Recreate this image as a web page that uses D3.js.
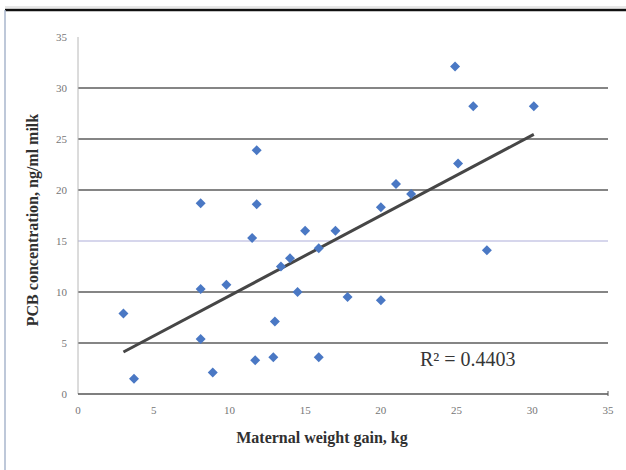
<!DOCTYPE html>
<html lang="en">
<head>
  <meta charset="UTF-8">
  <title>PCB concentration vs maternal weight gain</title>
  <script src="https://d3js.org/d3.v7.min.js"></script>
  <style>
    body { margin: 0; padding: 0; background: #fff; }
    svg { display: block; }
    .tick-label { font-family: 'Liberation Serif', serif; font-size: 11px; fill: #767676; }
    .axis-title { font-family: 'Liberation Serif', serif; font-weight: bold; fill: #303030; }
  </style>
</head>
<body>
  <div id="chart"></div>
  <script>
    // weight gain (kg) and PCB concentration (ng/ml milk)
    const weightGain = [3, 3.7, 8.1, 8.1, 8.1, 8.9, 9.8, 11.5, 11.8, 11.8, 11.7, 12.9, 13, 13.4, 14,
      14.5, 15, 15.9, 15.9, 17, 17.8, 20, 20, 21, 22, 24.9, 25.1, 26.1, 27, 30.1];
    const pcb = [7.9, 1.5, 18.7, 10.3, 5.4, 2.1, 10.7, 15.3, 23.9, 18.6, 3.3, 3.6, 7.1, 12.5, 13.3,
      10, 16, 14.3, 3.6, 16, 9.5, 18.3, 9.2, 20.6, 19.6, 32.1, 22.6, 28.2, 14.1, 28.2];
    const xTicks = [0, 5, 10, 15, 20, 25, 30, 35];
    const yTicks = [0, 5, 10, 15, 20, 25, 30, 35];
    const rSquaredLabel = "R\u00b2 = 0.4403";

    const W = 626, H = 470;
    const svg = d3.select("#chart").append("svg")
      .attr("width", W).attr("height", H);

    // frame of the scanned figure
    svg.append("line").attr("x1", 5).attr("x2", W).attr("y1", 7).attr("y2", 7)
      .attr("stroke", "#d0d0d0").attr("stroke-width", 1);
    svg.append("line").attr("x1", 5).attr("x2", W).attr("y1", 10).attr("y2", 10)
      .attr("stroke", "#111").attr("stroke-width", 2.5);
    svg.append("line").attr("x1", 5).attr("x2", 5).attr("y1", 10).attr("y2", H)
      .attr("stroke", "#a9b6cc").attr("stroke-width", 1.5);

    const x = d3.scaleLinear().domain([0, 35]).range([78, 608]);
    const y = d3.scaleLinear().domain([0, 35]).range([394, 37]);

    // gridlines
    svg.append("g").selectAll("line")
      .data(yTicks.filter(t => t > 0 && t < 35))
      .join("line")
      .attr("x1", x(0)).attr("x2", x(35))
      .attr("y1", d => y(d)).attr("y2", d => y(d))
      .attr("stroke", d => d === 15 ? "#d6d6ec" : "#5c5c5c")
      .attr("stroke-width", d => d === 15 ? 2 : 1.6);

    // y axis
    svg.append("line").attr("x1", x(0)).attr("x2", x(0)).attr("y1", y(35)).attr("y2", y(0))
      .attr("stroke", "#b8b8b8").attr("stroke-width", 1);
    svg.append("g").selectAll("text")
      .data(yTicks)
      .join("text")
      .attr("class", "tick-label")
      .attr("x", x(0) - 11)
      .attr("y", d => y(d) + 4)
      .attr("text-anchor", "end")
      .text(d => d);

    // x axis
    svg.append("line").attr("x1", x(0)).attr("x2", x(35)).attr("y1", y(0)).attr("y2", y(0))
      .attr("stroke", "#555").attr("stroke-width", 1.6);
    svg.append("line").attr("x1", x(35)).attr("x2", x(35)).attr("y1", y(0) - 3).attr("y2", y(0) + 2)
      .attr("stroke", "#555").attr("stroke-width", 1);
    svg.append("g").selectAll("text")
      .data(xTicks)
      .join("text")
      .attr("class", "tick-label")
      .attr("x", d => x(d))
      .attr("y", y(0) + 20)
      .attr("text-anchor", "middle")
      .text(d => d);

    // least squares trendline over the data range
    const mx = d3.mean(weightGain), my = d3.mean(pcb);
    const sxy = d3.sum(weightGain, (v, i) => (v - mx) * (pcb[i] - my));
    const sxx = d3.sum(weightGain, v => (v - mx) * (v - mx));
    const slope = sxy / sxx, intercept = my - slope * mx;
    const [x0, x1] = d3.extent(weightGain);
    svg.append("line")
      .attr("x1", x(x0)).attr("y1", y(intercept + slope * x0))
      .attr("x2", x(x1)).attr("y2", y(intercept + slope * x1))
      .attr("stroke", "#464646").attr("stroke-width", 3);

    // points
    const diamond = d3.symbol().type(d3.symbolSquare).size(50);
    svg.append("g").selectAll("path")
      .data(weightGain.map((v, i) => [v, pcb[i]]))
      .join("path")
      .attr("d", diamond)
      .attr("transform", d => `translate(${x(d[0])},${y(d[1])}) rotate(45)`)
      .attr("fill", "#4a78c4");

    svg.append("text")
      .attr("x", 420).attr("y", 366)
      .attr("font-family", "'Liberation Serif', serif")
      .attr("font-size", 20)
      .attr("fill", "#363636")
      .text(rSquaredLabel);

    svg.append("text")
      .attr("class", "axis-title")
      .attr("x", 322).attr("y", 443)
      .attr("text-anchor", "middle")
      .attr("font-size", 16)
      .text("Maternal weight gain, kg");

    svg.append("text")
      .attr("class", "axis-title")
      .attr("transform", "translate(38,220) rotate(-90)")
      .attr("text-anchor", "middle")
      .attr("font-size", 16)
      .text("PCB concentration, ng/ml milk");
  </script>
</body>
</html>
